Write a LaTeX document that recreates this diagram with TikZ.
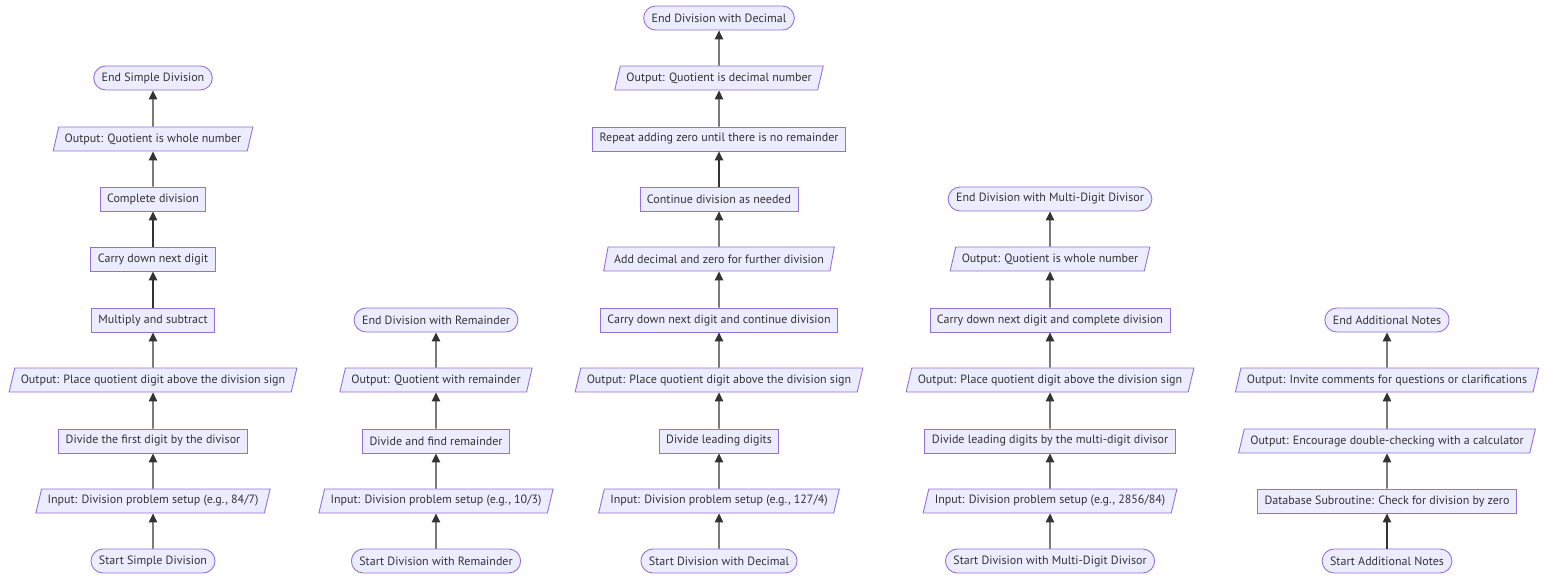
\documentclass[tikz,border=0pt]{standalone}
\usepackage{fontspec}
\setmainfont{PT Sans}
\usetikzlibrary{arrows.meta,shapes.geometric}
\definecolor{nodefill}{HTML}{ECECFF}
\definecolor{nodeline}{HTML}{9370DB}
\definecolor{ink}{HTML}{333333}
\tikzset{
  base/.style={draw=nodeline, fill=nodefill, line width=0.9pt, text=ink,
    font=\fontsize{12}{14}\selectfont, minimum height=24pt, inner ysep=0pt},
  term/.style={base, rounded corners=12pt, inner xsep=8pt},
  proc/.style={base, rectangle, inner xsep=7pt},
  io/.style={base, trapezium, trapezium left angle=63, trapezium right angle=117,
    trapezium stretches body, inner xsep=6pt},
  flow/.style={draw=ink, line width=1.2pt, -{Triangle[length=9pt,width=8.5pt]}}
}
\begin{document}
\begin{tikzpicture}[x=1pt,y=-1pt]
\useasboundingbox (0,0) rectangle (1568,586);

% Simple division
\node[term] (a1) at (153,561) {Start Simple Division};
\node[io]   (a2) at (153,501) {Input: Division problem setup (e.g., 84/7)};
\node[proc] (a3) at (153,441) {Divide the first digit by the divisor};
\node[io]   (a4) at (153,380) {Output: Place quotient digit above the division sign};
\node[proc] (a5) at (153,320) {Multiply and subtract};
\node[proc] (a6) at (153,259) {Carry down next digit};
\node[proc] (a7) at (153,199) {Complete division};
\node[io]   (a8) at (153,139) {Output: Quotient is whole number};
\node[term] (a9) at (153,78)  {End Simple Division};

% Division with remainder
\node[term] (b1) at (436,561) {Start Division with Remainder};
\node[io]   (b2) at (436,501) {Input: Division problem setup (e.g., 10/3)};
\node[proc] (b3) at (436,441) {Divide and find remainder};
\node[io]   (b4) at (436,380) {Output: Quotient with remainder};
\node[term] (b5) at (436,320) {End Division with Remainder};

% Division with decimal
\node[term] (c1)  at (719,561) {Start Division with Decimal};
\node[io]   (c2)  at (719,501) {Input: Division problem setup (e.g., 127/4)};
\node[proc] (c3)  at (719,441) {Divide leading digits};
\node[io]   (c4)  at (719,380) {Output: Place quotient digit above the division sign};
\node[proc] (c5)  at (719,320) {Carry down next digit and continue division};
\node[io]   (c6)  at (719,259) {Add decimal and zero for further division};
\node[proc] (c7)  at (719,199) {Continue division as needed};
\node[proc] (c8)  at (719,139) {Repeat adding zero until there is no remainder};
\node[io]   (c9)  at (719,78)  {Output: Quotient is decimal number};
\node[term] (c10) at (719,18)  {End Division with Decimal};

% Multi-digit divisor
\node[term] (d1) at (1050,561) {Start Division with Multi-Digit Divisor};
\node[io]   (d2) at (1050,501) {Input: Division problem setup (e.g., 2856/84)};
\node[proc] (d3) at (1050,441) {Divide leading digits by the multi-digit divisor};
\node[io]   (d4) at (1050,380) {Output: Place quotient digit above the division sign};
\node[proc] (d5) at (1050,320) {Carry down next digit and complete division};
\node[io]   (d6) at (1050,259) {Output: Quotient is whole number};
\node[term] (d7) at (1050,199) {End Division with Multi-Digit Divisor};

% Additional notes
\node[term] (e1) at (1387,561) {Start Additional Notes};
\node[proc] (e2) at (1387,501) {Database Subroutine: Check for division by zero};
\node[io]   (e3) at (1387,441) {Output: Encourage double-checking with a calculator};
\node[io]   (e4) at (1387,380) {Output: Invite comments for questions or clarifications};
\node[term] (e5) at (1387,320) {End Additional Notes};

\foreach \p/\q in {a1/a2,a2/a3,a3/a4,a4/a5,a5/a6,a6/a7,a7/a8,a8/a9,
                   b1/b2,b2/b3,b3/b4,b4/b5,
                   c1/c2,c2/c3,c3/c4,c4/c5,c5/c6,c6/c7,c7/c8,c8/c9,c9/c10,
                   d1/d2,d2/d3,d3/d4,d4/d5,d5/d6,d6/d7,
                   e1/e2,e2/e3,e3/e4,e4/e5}
  \draw[flow] (\p.north) -- (\q.south);
\end{tikzpicture}
\end{document}
